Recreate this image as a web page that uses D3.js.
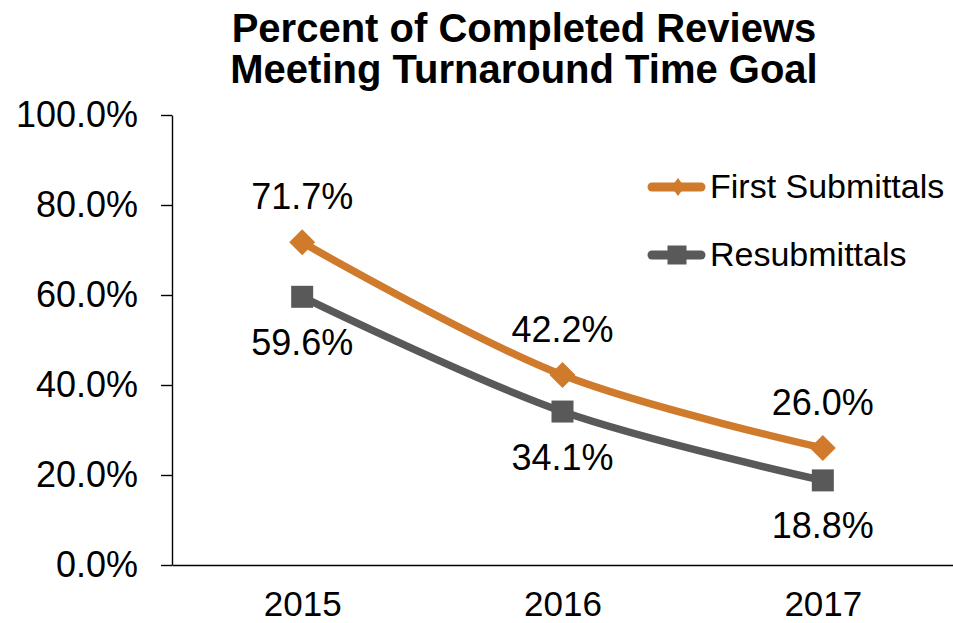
<!DOCTYPE html>
<html>
<head>
<meta charset="utf-8">
<script src="https://cdn.jsdelivr.net/npm/d3@7"></script>
<style>
  body { margin: 0; background: #fff; }
  svg { display: block; font-family: "Liberation Sans", Arial, sans-serif; }
</style>
</head>
<body>
<div id="chart"></div>
<script>
// chart data
var years = ["2015", "2016", "2017"];
var firstSubmittals = [0.717, 0.422, 0.260];
var resubmittals = [0.596, 0.341, 0.188];
var yTicks = [0, 0.2, 0.4, 0.6, 0.8, 1.0];
var titleLines = ["Percent of Completed Reviews", "Meeting Turnaround Time Goal"];
var seriesNames = ["First Submittals", "Resubmittals"];

var w = 953;
var h = 623;
var orange = "#D07A2C";
var gray = "#595959";

var svg = d3.select("#chart").append("svg")
    .attr("width", w)
    .attr("height", h);

var x = d3.scalePoint()
    .domain(years)
    .range([172, 953])
    .padding(0.5);

var y = d3.scaleLinear()
    .domain([0, 1])
    .range([565, 115]);

// title
svg.selectAll("text.title")
    .data(titleLines)
    .enter()
    .append("text")
    .attr("class", "title")
    .attr("x", 524)
    .attr("y", function(d, i) { return 42 + i * 41; })
    .attr("text-anchor", "middle")
    .attr("font-size", 40)
    .attr("font-weight", "bold")
    .attr("fill", "#000")
    .text(function(d) { return d; });

// y axis
var yAxis = svg.append("g")
    .attr("transform", "translate(172,0)")
    .call(d3.axisLeft(y)
        .tickValues(yTicks)
        .tickFormat(d3.format(".1%"))
        .tickSize(11)
        .tickSizeOuter(0)
        .tickPadding(23));

yAxis.selectAll("text")
    .attr("font-size", 36)
    .attr("font-family", "Liberation Sans, Arial, sans-serif")
    .attr("fill", "#000");
yAxis.selectAll("line, path")
    .attr("stroke", "#000")
    .attr("stroke-width", 1.4);

// x axis
var xAxis = svg.append("g")
    .attr("transform", "translate(0,565)")
    .call(d3.axisBottom(x)
        .tickSize(0)
        .tickSizeOuter(0)
        .tickPadding(26));

xAxis.select(".domain")
    .attr("stroke", "#000")
    .attr("stroke-width", 1.4);
xAxis.selectAll("text")
    .attr("font-size", 35)
    .attr("font-family", "Liberation Sans, Arial, sans-serif")
    .attr("fill", "#000");

// smoothed lines like the spreadsheet
var line = d3.line()
    .x(function(d, i) { return x(years[i]); })
    .y(function(d) { return y(d); })
    .curve(d3.curveCatmullRom.alpha(0.5));

var series = [
    { name: seriesNames[0], values: firstSubmittals, color: orange, shape: "diamond", labelDy: -33 },
    { name: seriesNames[1], values: resubmittals, color: gray, shape: "square", labelDy: 58 }
];

series.forEach(function(s) {
    svg.append("path")
        .datum(s.values)
        .attr("d", line)
        .attr("fill", "none")
        .attr("stroke", s.color)
        .attr("stroke-width", 7.5)
        .attr("stroke-linejoin", "round")
        .attr("stroke-linecap", "round");
});

function markerPath(shape, size) {
    var r = size / 2;
    if (shape === "diamond") {
        return "M0," + (-r) + "L" + r + ",0L0," + r + "L" + (-r) + ",0Z";
    }
    return "M" + (-r) + "," + (-r) + "H" + r + "V" + r + "H" + (-r) + "Z";
}

series.forEach(function(s) {
    svg.selectAll("path.m-" + s.shape)
        .data(s.values)
        .enter()
        .append("path")
        .attr("class", "m-" + s.shape)
        .attr("d", markerPath(s.shape, s.shape === "diamond" ? 26 : 22))
        .attr("transform", function(d, i) {
            return "translate(" + x(years[i]) + "," + y(d) + ")";
        })
        .attr("fill", s.color);

    svg.selectAll("text.lbl-" + s.shape)
        .data(s.values)
        .enter()
        .append("text")
        .attr("class", "lbl-" + s.shape)
        .attr("x", function(d, i) { return x(years[i]); })
        .attr("y", function(d) { return y(d) + s.labelDy; })
        .attr("text-anchor", "middle")
        .attr("font-size", 36)
        .attr("fill", "#000")
        .text(function(d) { return d3.format(".1%")(d); });
});

// legend
var legend = svg.selectAll("g.legend")
    .data(series)
    .enter()
    .append("g")
    .attr("class", "legend")
    .attr("transform", function(d, i) { return "translate(648," + (187 + i * 68) + ")"; });

legend.append("line")
    .attr("x1", 4)
    .attr("x2", 53)
    .attr("y1", 0)
    .attr("y2", 0)
    .attr("stroke", function(d) { return d.color; })
    .attr("stroke-width", 9)
    .attr("stroke-linecap", "round");

legend.append("path")
    .attr("d", function(d) {
        return d.shape === "diamond" ? "M0,-9L6.5,0L0,9L-6.5,0Z" : markerPath("square", 19);
    })
    .attr("transform", function(d) {
        return "translate(" + (d.shape === "diamond" ? 30 : 29) + ",0)";
    })
    .attr("fill", function(d) { return d.color; });

legend.append("text")
    .attr("x", 62)
    .attr("y", 11)
    .attr("font-size", 34)
    .attr("fill", "#000")
    .text(function(d) { return d.name; });
</script>
</body>
</html>
